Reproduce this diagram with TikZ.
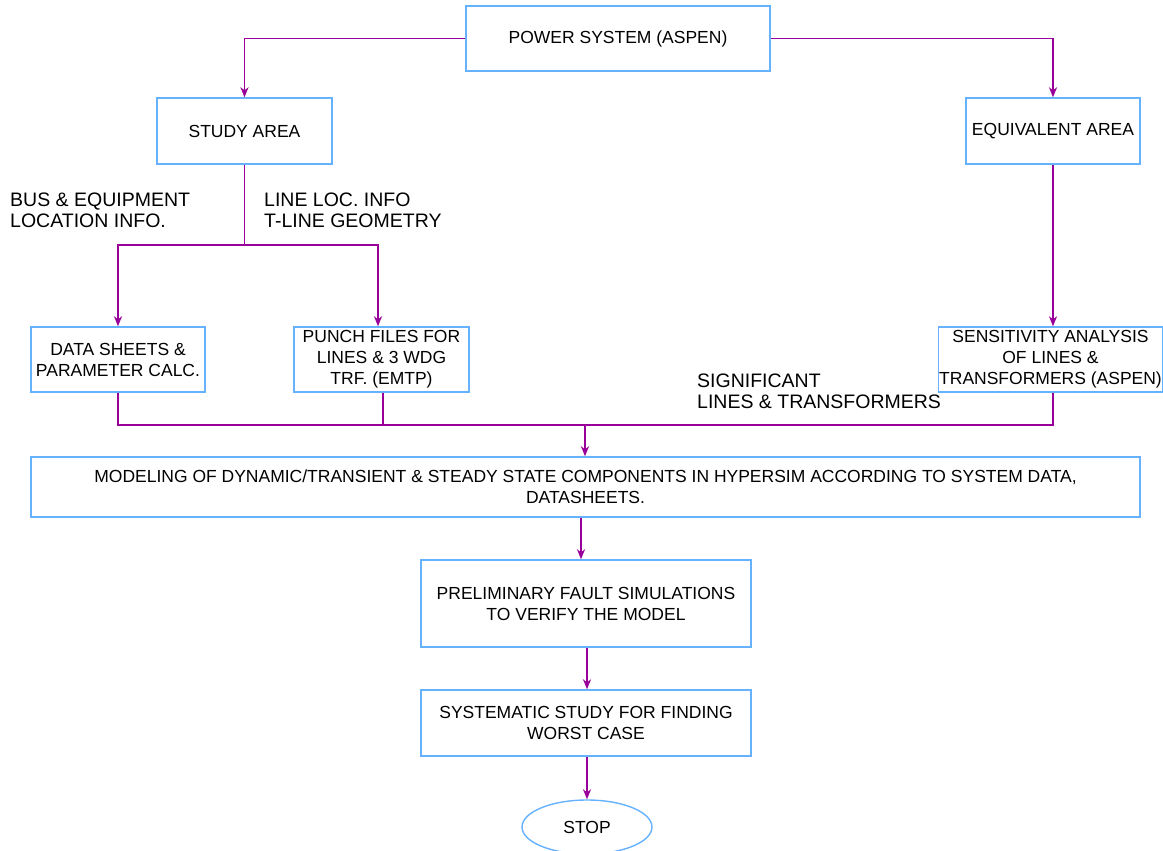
\documentclass[tikz,border=0pt]{standalone}
\usepackage{fontspec}
\setmainfont{Liberation Sans}
\usetikzlibrary{arrows.meta,shapes.geometric,calc}
\definecolor{connc}{HTML}{990099}
\definecolor{boxc}{HTML}{66B2FF}
\begin{document}
\begin{tikzpicture}[x=1pt,y=-1pt,
  box/.style={draw=boxc, line width=1.4pt, rectangle, inner sep=0pt, align=center, font=\fontsize{17.5}{21}\selectfont},
  oval/.style={draw=boxc, line width=1.4pt, ellipse, inner sep=0pt, align=center, font=\fontsize{17.5}{21}\selectfont},
  lbl/.style={inner sep=0pt, align=left, font=\fontsize{19.5}{21}\selectfont},
  arr/.style={draw=connc, line width=1.4pt, -{Stealth[length=10pt,width=8pt,inset=3pt]}},
  wire/.style={draw=connc, line width=1.4pt}]
\useasboundingbox (0,0) rectangle (1163,851);

\node[box, minimum width=304pt, minimum height=65pt] (power) at (618,38.5) {POWER SYSTEM (ASPEN)};
\node[box, minimum width=175pt, minimum height=66pt] (study) at (244.5,131) {STUDY AREA};
\node[box, minimum width=174pt, minimum height=66pt] (equiv) at (1053,131) {EQUIVALENT AREA};
\node[box, minimum width=174pt, minimum height=65pt] (data) at (118,359.5) {DATA SHEETS \&\\PARAMETER CALC.};
\node[box, minimum width=175pt, minimum height=65pt] (punch) at (381.5,359.5) {PUNCH FILES FOR\\LINES \& 3 WDG\\TRF. (EMTP)};
\node[box, minimum width=224pt, minimum height=65pt] (sens) at (1050.5,359.5) {SENSITIVITY ANALYSIS\\OF LINES \&\\TRANSFORMERS (ASPEN)};
\node[box, minimum width=1109pt, minimum height=60pt] (model) at (585.5,487) {MODELING OF DYNAMIC/TRANSIENT \& STEADY STATE COMPONENTS IN HYPERSIM ACCORDING TO SYSTEM DATA,\\DATASHEETS.};
\node[box, minimum width=330pt, minimum height=87pt] (prelim) at (586,603.5) {PRELIMINARY FAULT SIMULATIONS\\TO VERIFY THE MODEL};
\node[box, minimum width=330pt, minimum height=66pt] (syst) at (586,723) {SYSTEMATIC STUDY FOR FINDING\\WORST CASE};
\node[oval, minimum width=130pt, minimum height=54pt] (stop) at (587,827) {STOP};

\node[lbl, anchor=west] (bus) at (10,210.5) {BUS \& EQUIPMENT\\LOCATION INFO.};
\node[lbl, anchor=west] (lineloc) at (264,210.5) {LINE LOC. INFO\\T-LINE GEOMETRY};
\node[lbl, anchor=west] (sig) at (697,391.5) {SIGNIFICANT\\LINES \& TRANSFORMERS};

\draw[arr] (power.west) -| (study.north);
\draw[arr] (power.east) -| (equiv.north);

\coordinate (j1) at (244.5,245);
\draw[wire] (study.south) -- (j1);
\draw[arr] (j1) -| (data.north);
\draw[arr] (j1) -| ([xshift=-3.5pt]punch.north);
\draw[arr] (equiv.south) -- (equiv.south |- sens.north);

\coordinate (j2) at (585,425);
\draw[wire] (data.south) |- (j2);
\draw[wire] ([xshift=1.5pt]punch.south) |- (j2);
\draw[wire] ([xshift=2.5pt]sens.south) |- (j2);
\draw[arr] (j2) -- (j2 |- model.north);
\draw[arr] ([xshift=-4.5pt]model.south) -- ([xshift=-4.5pt]model.south |- prelim.north);
\draw[arr] ([xshift=1pt]prelim.south) -- ([xshift=1pt]syst.north);
\draw[arr] ([xshift=1pt]syst.south) -- (stop.north);
\end{tikzpicture}
\end{document}
